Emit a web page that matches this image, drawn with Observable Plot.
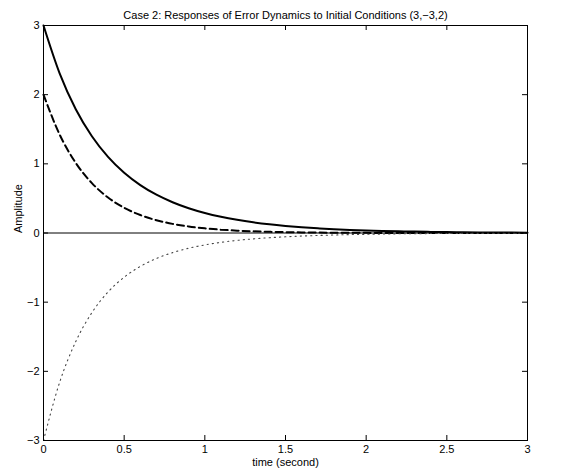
<!DOCTYPE html>
<html>
<head>
<meta charset="utf-8">
<script src="https://cdn.jsdelivr.net/npm/d3@7"></script>
<script src="https://cdn.jsdelivr.net/npm/@observablehq/plot@0.6"></script>
<style>
  html, body { margin: 0; padding: 0; background: white; }
</style>
</head>
<body>
<div id="chart"></div>
<script>
const title = "Case 2: Responses of Error Dynamics to Initial Conditions (3,\u22123,2)";
const xLabel = "time (second)";
const yLabel = "Amplitude";

const time = [0,0.1,0.2,0.3,0.4,0.5,0.6,0.7,0.8,0.9,1.0,1.1,1.2,1.3,1.4,1.5,1.6,1.7,1.8,1.9,2.0,2.1,2.2,2.3,2.4,2.5,2.6,2.7,2.8,2.9,3.0];
const solid = [3.000,2.308,1.790,1.399,1.101,0.871,0.693,0.554,0.445,0.358,0.289,0.234,0.190,0.154,0.125,0.102,0.083,0.068,0.055,0.045,0.037,0.030,0.025,0.020,0.016,0.013,0.011,0.009,0.007,0.006,0.005];
const dashed = [2.000,1.424,1.013,0.721,0.513,0.365,0.260,0.185,0.132,0.094,0.067,0.048,0.034,0.024,0.017,0.012,0.009,0.006,0.004,0.003,0.002,0.001,0.001,0.001,0.000,0.000,0.000,0.000,0.000,0.000,0.000];
const dotted = [-3.000,-2.159,-1.569,-1.151,-0.853,-0.639,-0.483,-0.368,-0.284,-0.220,-0.172,-0.135,-0.107,-0.085,-0.068,-0.055,-0.044,-0.036,-0.029,-0.023,-0.019,-0.015,-0.012,-0.010,-0.008,-0.007,-0.006,-0.005,-0.004,-0.003,-0.003];

const xTicks = [0,0.5,1,1.5,2,2.5,3];
const yTicks = [-3,-2,-1,0,1,2,3];

const W = 583, H = 475;
const mL = 43, mR = 56, mT = 25, mB = 35;
const innerW = W - mL - mR, innerH = H - mT - mB;
const tickLen = 5;
const fmt = d => String(d).replace("-", "\u2212");

const chart = Plot.plot({
  width: W,
  height: H,
  marginLeft: mL,
  marginRight: mR,
  marginTop: mT,
  marginBottom: mB,
  style: {fontFamily: "'Liberation Sans', Arial, Helvetica, sans-serif", fontSize: "11px", background: "white", color: "black"},
  x: {domain: [0, 3]},
  y: {domain: [-3, 3]},
  marks: [
    Plot.ruleY([0], {stroke: "black", strokeWidth: 1}),
    Plot.line(time, {x: time, y: solid, stroke: "black", strokeWidth: 2, curve: "monotone-x"}),
    Plot.line(time, {x: time, y: dashed, stroke: "black", strokeWidth: 2, strokeDasharray: "7,4", curve: "monotone-x"}),
    Plot.line(time, {x: time, y: dotted, stroke: "#444", strokeWidth: 1.1, strokeDasharray: "1.2,4", curve: "monotone-x"}),
    Plot.ruleX(xTicks, {x: d => d, insetTop: innerH - tickLen, stroke: "black"}),
    Plot.ruleX(xTicks, {x: d => d, insetBottom: innerH - tickLen, stroke: "black"}),
    Plot.ruleY(yTicks, {y: d => d, insetRight: innerW - tickLen, stroke: "black"}),
    Plot.ruleY(yTicks, {y: d => d, insetLeft: innerW - tickLen, stroke: "black"}),
    Plot.frame({stroke: "black", strokeWidth: 1}),
    Plot.axisX(xTicks, {tickSize: 0, tickPadding: 5, tickFormat: fmt, label: null, fontSize: 11}),
    Plot.axisY(yTicks, {tickSize: 0, tickPadding: 4, tickFormat: fmt, label: null, fontSize: 11}),
    Plot.text([title], {frameAnchor: "top", dy: -14, fontSize: 11}),
    Plot.text([xLabel], {frameAnchor: "bottom", dy: 25, fontSize: 11}),
    Plot.text([yLabel], {frameAnchor: "left", dx: -25, rotate: -90, fontSize: 11})
  ]
});
document.getElementById("chart").appendChild(chart);
</script>
</body>
</html>
